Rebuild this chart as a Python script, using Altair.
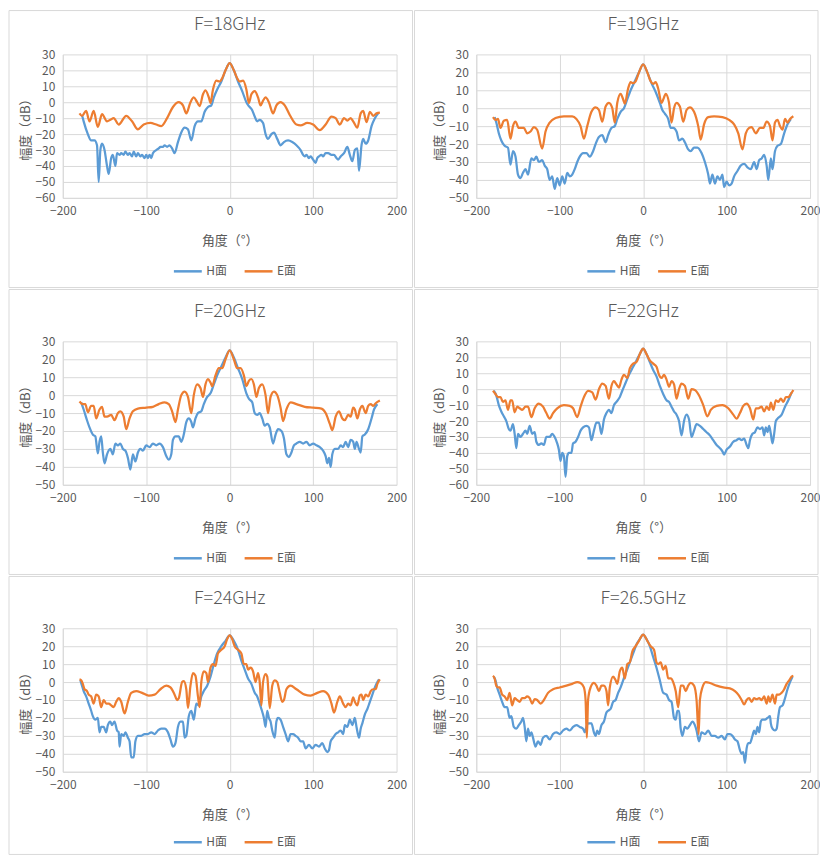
import altair as alt
import pandas as pd

# ---------------- data (angle in degrees, amplitude in dB) ----------------
H18 = [(-177,-8),(-175,-12),(-170,-20),(-166,-24),(-162,-24),(-159,-27),(-157,-50),(-155,-30),(-153,-26),(-150,-30),
       (-147,-40),(-145,-45),(-142,-35),(-140,-33),(-137,-40),(-135,-32),(-132,-33),(-130,-32),(-127,-33),(-125,-31),
       (-122,-33),(-120,-32),(-117,-34),(-115,-31),(-112,-34),(-110,-32),(-107,-34),(-105,-33),(-102,-35),(-100,-33),
       (-98,-35),(-96,-33),(-94,-35),(-92,-32),(-88,-30),(-85,-29),(-83,-28),(-80,-28),(-78,-27),(-75,-28),(-72,-27),
       (-69,-29),(-66,-32),(-62,-25),(-58,-19),(-54,-16),(-50,-17),(-46,-24),(-42,-15),(-38,-12),(-34,-12),(-30,-6),
       (-26,-3),(-22,-2),(-19,3),(-15,8),(-10,13),(-5,20),(0,24.5),(5,20),(10,13),(15,7),(20,0),(23,-2.5),(27,-5),
       (30,-9),(33,-12),(36,-11),(40,-13),(43,-20),(46,-23),(50,-20),(53,-19),(57,-23),(61,-27),(65,-25),(70,-24),
       (75,-25),(80,-27),(85,-30),(88,-33),(90,-34),(92,-33),(95,-35),(97,-34),(100,-36),(103,-38),(105,-35),(107,-34),
       (110,-33),(112,-34),(115,-32),(118,-32),(122,-33),(125,-33),(128,-35),(130,-36),(133,-34),(137,-32),(141,-28),
       (144,-33),(147,-37),(150,-30),(153,-29),(155,-43),(158,-27),(160,-23),(163,-26),(166,-24),(170,-15),(174,-10),
       (178,-7)]
E18 = [(-180,-7),(-177,-8.5),(-172,-5.5),(-168,-12),(-163,-5.5),(-158,-15.5),(-153,-7.5),(-147,-12),(-143,-11),
       (-139,-10),(-133,-14),(-124,-8.5),(-117,-12),(-110,-17),(-103,-14),(-95,-13),(-88,-14),(-82,-15),(-75,-10),
       (-68,-3),(-61,0),(-56,-2),(-52,-7),(-47,0),(-43,3),(-39,0),(-36,-2.5),(-32,5),(-29,7.5),(-25,3),(-23,-0.5),
       (-20,8),(-16,13.5),(-12,13),(-9,15),(-5,20),(0,24.5),(5,20),(9,15),(12,13),(16,13.5),(20,8),(23,-0.5),(26,5),
       (30,7),(34,3),(37,-2),(40,1),(43,3),(47,0),(52,-7),(56,-2),(61,0),(66,-2),(72,-8),(80,-14),(85,-14.5),(93,-13),
       (100,-14),(108,-17.5),(115,-14),(122,-9),(127,-10),(132,-14),(137,-10),(141,-11.5),(145,-10),(148,-12),
       (153,-16),(157,-7),(160,-5.5),(164,-12.5),(168,-6),(172,-8.5),(176,-7),(180,-6.5)]

H19 = [(-178,-5),(-176,-8),(-173,-14),(-170,-18),(-166,-21),(-162,-22),(-159,-31.5),(-156,-24),(-153,-27),(-150,-37),
       (-147,-39),(-144,-36),(-141,-34),(-138,-37),(-134,-28),(-131,-29),(-128,-27),(-125,-30),(-121,-29),(-118,-32),
       (-115,-34),(-112,-40),(-109,-38),(-106,-45),(-103,-39),(-100,-43),(-97,-38),(-94,-42),(-91,-36),(-88,-38),
       (-85,-37),(-82,-34),(-79,-30),(-76,-27),(-72,-25),(-68,-25),(-64,-27),(-60,-24),(-57,-20),(-53,-16),(-49,-15),
       (-45,-19),(-42,-15),(-38,-11),(-34,-10),(-31,-6),(-27,-2),(-23,0),(-19,5),(-15,10),(-10,15),(-5,20),(0,24.5),
       (5,20),(10,14),(15,9),(20,3),(23,-1),(26,-3),(30,-6),(33,-11),(36,-11),(40,-13),(43,-18),(47,-17),(50,-19),
       (54,-23),(57,-24),(61,-22),(65,-22),(70,-25),(74,-30),(78,-37),(80,-42),(83,-37),(86,-42),(89,-38),(92,-40),
       (95,-37),(97,-44),(100,-41),(103,-43),(106,-42),(109,-38),(113,-35),(117,-32),(121,-31),(125,-33),(129,-34),
       (133,-30),(136,-34),(139,-29),(142,-28),(145,-26),(148,-32),(150,-40),(153,-28),(155,-34),(158,-24),(161,-21),
       (165,-20),(169,-14),(173,-9),(177,-6)]
E19 = [(-180,-5),(-177,-6.5),(-174,-6),(-171,-11),(-167,-7),(-163,-6.5),(-159,-17),(-156,-10),(-153,-7.5),(-149,-11),
       (-146,-11),(-143,-11),(-139,-14),(-135,-13),(-131,-10.5),(-127,-12),(-121,-22.5),(-117,-13),(-112,-8),
       (-105,-5.5),(-95,-4.5),(-85,-4.5),(-80,-6),(-75,-10),(-71,-17),(-67,-10),(-62,-2),(-57,0.5),(-53,-1),(-49,-7.5),
       (-45,1),(-41,3),(-37,0),(-34,-8),(-31,3),(-27,8),(-24,5),(-22,2.5),(-18,11),(-15,14.5),(-12,14),(-9,15),(-5,20),
       (0,24.5),(5,20),(9,15),(12,13.5),(15,14.5),(18,11),(22,3),(25,6),(27,8),(31,3),(34,-8),(37,0),(40,3),(44,1),
       (48,-7.5),(52,-1),(56,0.5),(61,-2),(66,-10),(69,-17.5),(73,-9),(78,-5),(85,-4.5),(95,-5),(103,-6.5),(109,-9),
       (114,-14),(119,-23),(123,-14),(127,-11),(130,-10.5),(135,-14),(140,-11),(144,-11),(148,-7.5),(152,-10),
       (155,-18),(158,-8),(161,-6.5),(164,-10),(167,-12),(170,-6),(173,-8),(176,-6),(180,-4.5)]

H20 = [(-178,-4),(-175,-8),(-171,-14),(-168,-18),(-164,-22),(-161,-23),(-158,-32.5),(-156,-26),(-154,-23),(-152,-32),
       (-150,-38),(-147,-33),(-143,-30),(-140,-33),(-137,-27),(-134,-28),(-131,-27),(-128,-30),(-125,-31),(-122,-35),
       (-119,-41.5),(-116,-33),(-113,-37),(-110,-32),(-107,-30),(-104,-31),(-100,-28),(-96,-29),(-92,-27),(-88,-28),
       (-84,-27),(-80,-29),(-76,-34),(-73,-36),(-70,-33),(-68,-25),(-65,-23),(-61,-23),(-58,-26),(-55,-22),(-52,-15),
       (-49,-13),(-46,-15),(-44,-18),(-41,-13),(-38,-10),(-34,-9),(-31,-5),(-27,-1),(-23,1),(-19,6),(-15,11),(-10,16),
       (-5,21),(0,25),(5,21),(10,15),(15,9),(20,1),(23,-2),(27,-4),(30,-10),(33,-11),(36,-10),(39,-13),(42,-17),
       (45,-16),(48,-18),(52,-27),(55,-22),(58,-19),(62,-20),(65,-24),(68,-33),(71,-34.5),(74,-32),(77,-28),(80,-27),
       (84,-26),(88,-27),(92,-26),(96,-28),(100,-27),(104,-28),(108,-29),(112,-31),(115,-34),(117,-38),(119,-35),
       (121,-40),(123,-33),(126,-30),(130,-30),(133,-28),(136,-29),(139,-26),(142,-29),(145,-25),(148,-26),(150,-30),
       (152,-26),(155,-30),(157,-32),(159,-23),(162,-22),(166,-19),(170,-13),(173,-8),(177,-5)]
E20 = [(-180,-3.5),(-176,-5),(-173,-5),(-170,-9.5),(-166,-6),(-163,-6),(-160,-13),(-156,-8),(-153,-6.5),(-150,-12),
       (-147,-12),(-142,-11),(-138,-14),(-134,-10),(-131,-9),(-127,-12),(-124,-19),(-120,-13),(-116,-9),(-110,-7.5),
       (-100,-7),(-92,-6.5),(-85,-5),(-78,-4),(-73,-5),(-69,-9),(-65,-15),(-62,-8),(-58,0),(-54,2),(-50,-1),(-46,-10),
       (-43,0),(-39,6),(-35,4),(-32,-1),(-29,6),(-26,9),(-23,7),(-21,5),(-17,11),(-13,15),(-9,15),(-5,20),(0,25),
       (5,20),(9,15),(13,15),(17,11),(20,5),(23,8),(26,9),(29,6),(32,-1),(35,4),(39,6),(43,0),(46,-10),(49,-1),(53,2),
       (57,0),(61,-7),(64,-14.5),(68,-8),(73,-4),(80,-5),(90,-6.5),(100,-7),(110,-7.5),(115,-10),(120,-16),(123,-19.5),
       (127,-12),(131,-9),(135,-13),(138,-14),(142,-11),(145,-12),(148,-7),(150,-8),(153,-13),(156,-8),(159,-6),
       (163,-10),(166,-6),(169,-5),(172,-6),(175,-4.5),(180,-3)]

H22 = [(-179,-1),(-176,-4),(-173,-10),(-170,-14),(-167,-17),(-164,-20),(-161,-25),(-159,-26),(-156,-22),(-154,-28),
       (-152,-37),(-150,-28),(-147,-30),(-144,-28),(-141,-26),(-139,-28),(-136,-23),(-133,-28),(-130,-27),(-128,-33),
       (-125,-35),(-122,-34),(-119,-35),(-116,-30),(-112,-30),(-109,-28),(-106,-30),(-103,-34),(-101,-38),(-99,-45),
       (-97,-40),(-95,-42),(-93,-55),(-91,-42),(-89,-40),(-86,-40),(-84,-34),(-81,-33),(-78,-30),(-75,-26),(-72,-24),
       (-68,-23),(-65,-24),(-62,-32),(-59,-26),(-56,-21),(-53,-21),(-50,-28),(-47,-19),(-44,-15),(-41,-13),(-38,-15),
       (-35,-10),(-32,-8),(-28,-5),(-25,-1),(-21,4),(-17,9),(-12,14),(-8,18),(-4,22),(0,25.5),(4,22),(8,17),(12,12),
       (16,8),(20,2),(24,-3),(28,-7),(31,-8),(34,-11),(37,-14),(40,-16),(43,-20),(46,-29),(49,-20),(52,-16),(55,-19),
       (58,-30),(61,-26),(64,-22),(68,-23),(72,-25),(76,-27),(80,-29),(84,-32),(88,-35),(92,-37),(95,-39),(97,-41),
       (100,-38),(104,-36),(108,-33),(112,-32),(115,-31),(118,-32),(121,-31),(124,-35),(126,-37),(128,-32),(131,-28),
       (134,-27),(137,-24),(140,-25),(143,-24),(145,-29),(147,-24),(149,-27),(151,-23),(153,-28),(155,-34),(157,-28),
       (159,-20),(162,-18),(166,-16),(170,-11),(174,-7),(178,-2)]
E22 = [(-180,-1),(-177,-3),(-174,-5),(-171,-5),(-168,-8),(-165,-7),(-162,-13),(-159,-7),(-157,-7),(-154,-14.5),
       (-151,-11),(-148,-12),(-145,-13),(-141,-11),(-138,-11),(-134,-17.5),(-130,-12),(-125,-9),(-120,-11),(-116,-15),
       (-112,-18.5),(-108,-15),(-103,-12),(-95,-10),(-88,-10.5),(-84,-12),(-79,-17.5),(-75,-11),(-71,-5),(-66,-1),
       (-61,-2),(-57,-6.5),(-53,0),(-49,3.5),(-45,2),(-41,-6),(-38,2),(-35,5),(-32,3),(-29,1),(-26,6),(-23,9),(-19,7),
       (-16,13),(-12,16),(-8,17),(-4,22),(0,25.5),(4,22),(8,18),(12,16),(16,14),(19,9),(22,7),(25,9),(28,6),(31,1.5),
       (34,5),(37,3),(40,-6),(43,0),(46,3.5),(50,2),(54,-6),(58,0),(62,-0.5),(67,-4),(72,-10),(77,-17),(81,-13),
       (88,-10.5),(95,-10),(102,-12),(108,-16),(112,-18.5),(116,-15),(120,-10.5),(124,-9),(128,-12),(132,-19),
       (135,-12),(138,-12),(142,-11),(145,-14),(148,-11),(151,-13),(153,-8.5),(156,-13),(159,-7),(162,-8),(165,-6),
       (168,-8),(171,-5),(174,-5),(177,-3),(180,-0.5)]

H24 = [(-179,1),(-177,-2),(-175,-5),(-172,-8),(-169,-12),(-166,-16),(-164,-19),(-161,-21),(-158,-20),(-156,-28),
       (-154,-25),(-151,-25),(-148,-28),(-146,-24),(-143,-22),(-141,-24),(-138,-22),(-135,-27),(-133,-28),(-132,-36),
       (-130,-29),(-127,-30),(-125,-28),(-122,-31),(-120,-33),(-118,-42),(-115,-42),(-113,-33),(-110,-30),(-106,-30),
       (-102,-29),(-98,-29),(-94,-28),(-90,-29),(-86,-27),(-82,-26),(-78,-26),(-74,-28),(-71,-32),(-68,-36),(-65,-34),
       (-62,-25),(-59,-22),(-56,-22),(-54,-31),(-52,-30),(-49,-19),(-46,-16),(-43,-21),(-40,-12),(-37,-13),(-34,-8),
       (-31,-5),(-27,-2),(-23,3),(-19,10),(-15,16),(-10,20),(-5,23),(0,26),(5,23),(10,18),(14,12),(18,7),(22,2),
       (26,-1),(30,-6),(33,-8),(36,-12),(38,-15),(41,-20),(43,-25),(45,-16),(47,-20),(49,-22),(51,-27),(54,-31),
       (56,-22),(58,-20),(61,-21),(64,-25),(67,-29),(70,-33),(73,-29),(76,-29),(79,-30),(82,-31),(85,-33),(88,-33),
       (91,-37),(95,-35),(99,-37),(103,-35),(107,-36),(111,-34),(114,-37),(117,-39),(119,-38),(121,-33),(124,-31),
       (127,-29),(130,-28),(133,-27),(136,-29),(138,-24),(141,-25),(144,-21),(147,-24),(150,-20),(152,-25),(155,-31),
       (157,-26),(159,-23),(162,-18),(165,-15),(168,-11),(171,-7),(174,-3),(177,0),(179,1.5)]
E24 = [(-180,1.5),(-178,1),(-176,-1),(-174,-4),(-171,-5),(-169,-7),(-166,-8),(-163,-12),(-160,-7),(-157,-8),
       (-154,-14),(-151,-10),(-148,-12),(-145,-12),(-142,-13),(-139,-14),(-136,-11),(-133,-9),(-130,-11),(-126,-17.5),
       (-122,-11),(-118,-6),(-112,-5),(-105,-6),(-97,-7.5),(-90,-7),(-83,-4),(-76,-2),(-71,-3),(-66,-7),(-63,-10),
       (-61,-9),(-57,0),(-55,0.5),(-52,-4),(-50,-14.5),(-47,-2),(-44,5),(-41,3.5),(-38,-8),(-36,-14),(-34,0),(-31,6),
       (-28,5),(-26,0),(-23,8),(-20,10),(-17,9),(-14,16),(-10,18),(-6,20),(-3,24),(0,26),(3,24),(6,20),(10,18),(14,16),
       (17,10),(20,10),(22,7),(25,8),(28,6),(31,0),(34,5),(36,0),(38,-13),(40,0),(43,4.5),(45,3),(48,-14.5),(51,-2),
       (54,1),(57,0),(60,-6),(63,-11),(65,-10),(68,-4),(73,-2),(80,-4),(90,-7),(97,-7.5),(105,-6),(112,-5),(118,-7),
       (122,-12),(125,-17),(129,-11),(132,-8),(136,-12),(139,-14),(142,-12),(145,-13),(148,-8.5),(150,-11),(153,-13),
       (156,-7.5),(158,-7),(160,-10),(163,-7),(166,-8),(169,-5),(172,-4),(175,-4),(177,-1),(180,1.5)]

H265 = [(-179,3),(-177,1),(-175,-3),(-172,-7),(-169,-11),(-166,-14),(-163,-14),(-160,-20),(-158,-19),(-155,-25),
        (-152,-26),(-149,-24),(-146,-22),(-144,-20),(-142,-25),(-140,-33),(-138,-26),(-136,-30),(-134,-28),(-132,-31),
        (-129,-36),(-126,-33),(-123,-35),(-120,-31),(-116,-30),(-112,-32),(-108,-29),(-104,-28),(-100,-29),(-96,-27),
        (-92,-26),(-88,-27),(-84,-25),(-80,-24),(-76,-25),(-72,-26),(-70,-28),(-68,-25),(-66,-23),(-62,-23),(-59,-28),
        (-57,-30),(-55,-27),(-53,-29),(-50,-24),(-47,-22),(-44,-17),(-42,-16),(-39,-15),(-36,-11),(-33,-10),(-30,-6),
        (-27,-3),(-24,1),(-20,6),(-16,11),(-12,16),(-8,21),(-4,24),(0,26.5),(4,24),(8,20),(12,14),(16,8),(20,1),
        (24,-6),(28,-7),(31,-10),(34,-11),(37,-20),(39,-21),(41,-16),(43,-16),(45,-26),(47,-30),(50,-25),(53,-26),
        (56,-24),(59,-22),(62,-24),(64,-27),(67,-33),(70,-28),(74,-29),(78,-27),(82,-30),(86,-30),(90,-31),(94,-30),
        (98,-32),(101,-29),(104,-29),(107,-30),(110,-32),(113,-33),(116,-38),(118,-40),(120,-39),(122,-45),(124,-37),
        (126,-34),(128,-34),(131,-30),(133,-27),(135,-29),(137,-25),(139,-28),(141,-22),(143,-21),(146,-21),(149,-20),
        (152,-19),(153,-23),(155,-26),(158,-27),(160,-26),(162,-19),(164,-14),(167,-13),(170,-9),(173,-4),(176,0),
        (179,3)]
E265 = [(-180,3.5),(-178,2),(-176,-2),(-174,-3),(-172,-3),(-169,-7),(-166,-8),(-163,-10),(-160,-6),(-157,-13),
        (-154,-9),(-151,-10),(-148,-11),(-145,-9),(-142,-9),(-139,-8),(-136,-9),(-133,-12),(-130,-9.5),(-127,-10),
        (-123,-12),(-119,-10),(-114,-6),(-108,-4),(-100,-3),(-92,-2),(-85,-1),(-79,0),(-75,-0.5),(-71,-3),(-69,-10),
        (-67.5,-31),(-66,-10),(-63,-3),(-59,-0.5),(-56,-2),(-53,-5),(-50,-2),(-47,-2),(-44,-5),(-42,-13),(-40,-3),
        (-36,3),(-33,1),(-31,-1),(-28,6),(-25,8),(-22,2),(-19,10),(-16,11),(-13,17),(-9,20),(-5,23),(0,26.5),(5,23),
        (9,20),(13,18),(16,11),(18,10),(21,11),(24,7),(27,9),(30,2),(33,2),(36,0),(39,-5),(42,-14),(45,-2),(48,-2),
        (51,-5),(54,-2),(57,-0.5),(61,-2),(64,-10),(66.5,-29),(68,-10),(71,-3),(75,0),(80,-0.5),(88,-2),(96,-3),
        (104,-3.5),(110,-5),(114,-7),(118,-10),(121,-12.5),(124,-10),(127,-9),(130,-11),(133,-9),(136,-9.5),(139,-9),
        (142,-10),(145,-8),(148,-12),(150,-8),(152,-11),(155,-7),(158,-12),(160,-7),(163,-7),(166,-6),(169,-4),
        (172,-1),(175,1),(178,3),(180,3.5)]

TITLES = ["F=18GHz", "F=19GHz", "F=20GHz", "F=22GHz", "F=24GHz", "F=26.5GHz"]
Y_MIN = [-60, -50, -50, -60, -50, -50]
H_SERIES = [H18, H19, H20, H22, H24, H265]
E_SERIES = [E18, E19, E20, E22, E24, E265]
SERIES_NAMES = ["H面", "E面"]

# ---------------- style ----------------
BLUE, ORANGE = "#5B9BD5", "#ED7D31"
FONT = "Noto Sans CJK SC"
TXT = "#595959"
GRID = "#D9D9D9"
W, H = 335, 144


def panel(idx):
    row, col = divmod(idx, 2)
    ymin = Y_MIN[idx]
    fx0, fx1 = (-54, 351) if col == 0 else (-62, 343)
    fy0 = -44 if row == 0 else -52
    fy1 = 234 if row < 2 else 227
    legend_y = 202 if row < 2 else 199

    dh = pd.DataFrame(H_SERIES[idx], columns=["angle", "db"]).assign(series=SERIES_NAMES[0])
    de = pd.DataFrame(E_SERIES[idx], columns=["angle", "db"]).assign(series=SERIES_NAMES[1])

    x = alt.X("angle:Q",
              scale=alt.Scale(domain=[-200, 200], nice=False),
              axis=alt.Axis(values=[-200, -100, 0, 100, 200], title="角度（°）",
                            grid=True, gridColor=GRID, domainColor=GRID, ticks=False,
                            labelFont=FONT, labelFontSize=12, labelColor=TXT, labelPadding=8,
                            labelFlush=False, labelOverlap=False,
                            titleFont=FONT, titleFontSize=13, titleColor=TXT, titleFontWeight="normal",
                            titleX=W / 2, titleY=43, titleAlign="center", titleBaseline="middle"))
    y = alt.Y("db:Q",
              scale=alt.Scale(domain=[ymin, 30], nice=False),
              axis=alt.Axis(values=list(range(ymin, 31, 10)), title="幅度（dB）",
                            grid=True, gridColor=GRID, domainColor=GRID, ticks=False,
                            labelFont=FONT, labelFontSize=12, labelColor=TXT, labelPadding=8,
                            titleFont=FONT, titleFontSize=13, titleColor=TXT, titleFontWeight="normal",
                            titleX=-37, titleY=H / 2, titleAngle=270, titleAlign="center",
                            titleBaseline="middle"))
    color = alt.Color("series:N",
                      scale=alt.Scale(domain=SERIES_NAMES, range=[BLUE, ORANGE]),
                      legend=alt.Legend(orient="none", legendX=110, legendY=legend_y, direction="horizontal",
                                        title=None, symbolType="stroke", symbolSize=784,
                                        symbolStrokeWidth=2.5, labelFont=FONT, labelFontSize=12,
                                        labelColor=TXT, labelOffset=3, columnPadding=12, padding=0))

    one = pd.DataFrame({"k": [0]})
    frame = alt.Chart(one).mark_rect(fill="white", fillOpacity=0, stroke=GRID, strokeWidth=1).encode(
        x=alt.value(fx0), x2=alt.value(fx1), y=alt.value(fy0), y2=alt.value(fy1))
    title = alt.Chart(one).mark_text(text=TITLES[idx], font=FONT, fontSize=18, fontWeight=300, color=TXT,
                                     align="center", baseline="middle").encode(
        x=alt.value(W / 2), y=alt.value(-29))
    lh = alt.Chart(dh).mark_line(strokeWidth=2.25, interpolate="monotone").encode(x=x, y=y, color=color)
    le = alt.Chart(de).mark_line(strokeWidth=2.25, interpolate="monotone").encode(x=x, y=y, color=color)
    return alt.layer(frame, lh, le, title).properties(width=W, height=H)


rows = []
for r in range(3):
    rows.append(
        alt.hconcat(panel(2 * r), panel(2 * r + 1), spacing=0)
        .resolve_scale(x="independent", y="independent", color="independent")
        .resolve_legend(color="independent")
    )

chart = (
    alt.vconcat(*rows, spacing=0)
    .resolve_scale(x="independent", y="independent", color="independent")
    .resolve_legend(color="independent")
    .properties(padding=0, background="white")
    .configure_view(strokeWidth=0)
)

chart.save("out.html", embed_options={"renderer": "svg", "actions": False})
